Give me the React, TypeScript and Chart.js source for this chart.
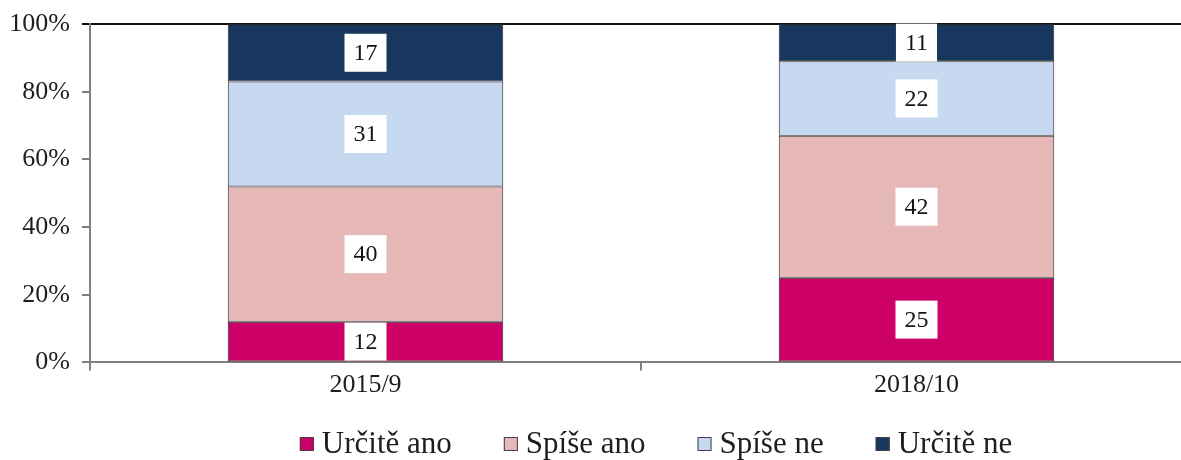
import React, { useEffect, useRef } from "react";
import { Chart, registerables } from "chart.js";

Chart.register(...registerables);

const categories = ["2015/9", "2018/10"];
const seriesLabels = ["Určitě ano", "Spíše ano", "Spíše ne", "Určitě ne"];
const urciteAno = [12, 25];
const spiseAno = [40, 42];
const spiseNe = [31, 22];
const urciteNe = [17, 11];
const seriesColors = ["#CC0066", "#E6B9B8", "#C6D9F1", "#17375E"];
const yTickStep = 20;

const FONT = "'Liberation Serif', 'Times New Roman', serif";

const dataLabelPlugin = {
  id: "boxLabels",
  afterDatasetsDraw(chart: any) {
    const ctx = chart.ctx;
    ctx.save();
    ctx.font = `24px ${FONT}`;
    ctx.textAlign = "center";
    ctx.textBaseline = "middle";
    chart.data.datasets.forEach((ds: any, di: number) => {
      const meta = chart.getDatasetMeta(di);
      meta.data.forEach((el: any, i: number) => {
        const v = ds.data[i];
        const p = el.getCenterPoint();
        const txt = String(v);
        const w = ctx.measureText(txt).width + 18;
        const h = 38;
        ctx.fillStyle = "#ffffff";
        ctx.fillRect(p.x - w / 2, p.y - h / 2, w, h);
        ctx.fillStyle = "#141414";
        ctx.fillText(txt, p.x, p.y + 1);
      });
    });
    ctx.restore();
  },
};

const legendPlugin = {
  id: "customLegend",
  afterDraw(chart: any) {
    const ctx = chart.ctx;
    ctx.save();
    ctx.font = `31px ${FONT}`;
    ctx.textBaseline = "middle";
    ctx.textAlign = "left";
    const box = 14;
    const gapBoxText = 8;
    const gapItems = 52;
    const widths = seriesLabels.map((l) => box + gapBoxText + ctx.measureText(l).width);
    const total = widths.reduce((a, b) => a + b, 0) + gapItems * (widths.length - 1);
    const area = chart.chartArea;
    let x = (area.left + area.right) / 2 + 15 - total / 2;
    const cy = chart.height - 16;
    seriesLabels.forEach((l, i) => {
      ctx.fillStyle = seriesColors[i];
      ctx.fillRect(x, cy - box / 2, box, box);
      ctx.strokeStyle = "#404040";
      ctx.lineWidth = 1;
      ctx.strokeRect(x + 0.5, cy - box / 2 + 0.5, box - 1, box - 1);
      ctx.fillStyle = "#1e1e1e";
      ctx.fillText(l, x + box + gapBoxText, cy + 1);
      x += widths[i] + gapItems;
    });
    ctx.restore();
  },
};

export default function App() {
  const canvasRef = useRef<HTMLCanvasElement | null>(null);

  useEffect(() => {
    if (!canvasRef.current) return;
    const seriesData = [urciteAno, spiseAno, spiseNe, urciteNe];
    const chart = new Chart(canvasRef.current, {
      type: "bar",
      data: {
        labels: categories,
        datasets: seriesLabels.map((label, i) => ({
          label,
          data: seriesData[i],
          backgroundColor: seriesColors[i],
          borderColor: "#2a2a2a",
          borderWidth: 1,
          borderSkipped: false,
          categoryPercentage: 1,
          barPercentage: 0.5,
        })),
      },
      options: {
        animation: false,
        responsive: true,
        maintainAspectRatio: false,
        layout: { padding: { top: 24, left: 0, right: 0, bottom: 61 } },
        plugins: {
          legend: { display: false },
          tooltip: { enabled: false },
          title: { display: false },
        },
        scales: {
          x: {
            stacked: true,
            offset: true,
            grid: {
              display: true,
              drawOnChartArea: false,
              drawTicks: true,
              tickLength: 8,
              color: "#808080",
              lineWidth: 2,
              offset: true,
            },
            border: { display: true, color: "#808080", width: 2 },
            ticks: {
              color: "#1e1e1e",
              padding: 0,
              font: { family: FONT, size: 26, lineHeight: 1.1 },
            },
          },
          y: {
            stacked: true,
            min: 0,
            max: 100,
            afterFit: (s: any) => {
              s.width = 90;
              s.paddingTop = 0;
              s.paddingBottom = 0;
            },
            ticks: {
              stepSize: yTickStep,
              color: "#1e1e1e",
              padding: 12,
              font: { family: FONT, size: 26 },
              callback: (v: any) => `${v}%`,
            },
            grid: {
              display: true,
              drawOnChartArea: true,
              drawTicks: true,
              tickLength: 8,
              color: (c: any) => (c.tick && c.tick.value === 100 ? "#111111" : "rgba(0,0,0,0)"),
              tickColor: (c: any) => (c.tick && c.tick.value === 100 ? "#111111" : "#808080"),
              lineWidth: 2,
            },
            border: { display: true, color: "#808080", width: 2 },
          },
        },
      },
      plugins: [dataLabelPlugin, legendPlugin],
    });
    return () => chart.destroy();
  }, []);

  return (
    <div style={{ position: "fixed", left: 0, top: 0, width: 1181, height: 460, overflow: "hidden", background: "#fff" }}>
      <div style={{ position: "relative", width: 1192, height: 460 }}>
        <canvas ref={canvasRef} />
      </div>
    </div>
  );
}
